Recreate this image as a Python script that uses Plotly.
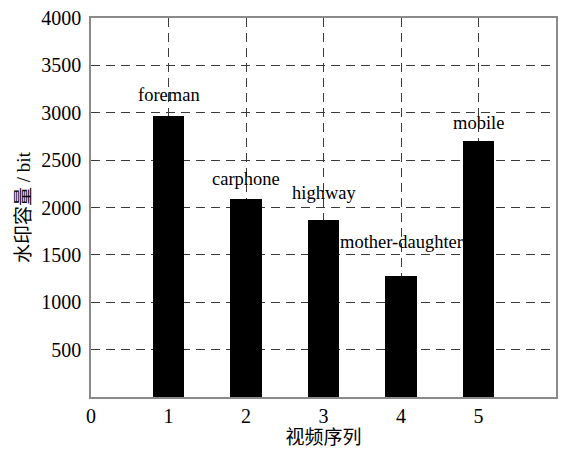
import plotly.graph_objects as go

# Watermark capacity per test video sequence
sequence_index = [1, 2, 3, 4, 5]
sequence_names = ["foreman", "carphone", "highway", "mother-daughter", "mobile"]
capacity_bits = [2965, 2095, 1870, 1275, 2705]
name_label_y = [3190, 2300, 2150, 1640, 2890]

x_ticks = [0, 1, 2, 3, 4, 5]
y_ticks = [500, 1000, 1500, 2000, 2500, 3000, 3500, 4000]

serif = "Liberation Serif, Times New Roman, Noto Sans CJK SC, serif"

fig = go.Figure()
fig.add_trace(go.Bar(
    x=sequence_index,
    y=capacity_bits,
    width=0.41,
    marker=dict(color="black", line=dict(width=0)),
    showlegend=False,
))

for xi, name, ly in zip(sequence_index, sequence_names, name_label_y):
    fig.add_annotation(
        x=xi, y=ly, text=name, showarrow=False,
        font=dict(family=serif, size=18.5, color="black"),
        xanchor="center", yanchor="middle",
    )

axis_common = dict(
    showline=True, linecolor="#8a8a8a", linewidth=1.5, mirror=True,
    showgrid=True, gridcolor="#3a3a3a", gridwidth=1, griddash="9px,6px",
    zeroline=False, ticks="",
    tickfont=dict(family=serif, size=20, color="black"),
)

fig.update_xaxes(
    range=[0, 6], tickmode="array", tickvals=x_ticks,
    ticktext=[str(v) for v in x_ticks],
    ticklabelstandoff=0,
    title=dict(text="视频序列", font=dict(family=serif, size=19, color="black"), standoff=5),
    **axis_common,
)
fig.update_yaxes(
    range=[0, 4000], tickmode="array", tickvals=y_ticks,
    ticktext=[str(v) for v in y_ticks],
    ticklabelstandoff=4,
    title=dict(text="水印容量 / bit", font=dict(family=serif, size=19, color="black"), standoff=6),
    **axis_common,
)

fig.update_layout(
    width=565, height=454,
    margin=dict(l=91, r=7, t=17, b=57),
    plot_bgcolor="white", paper_bgcolor="white",
    bargap=0,
)

fig.write_html("out.html")
